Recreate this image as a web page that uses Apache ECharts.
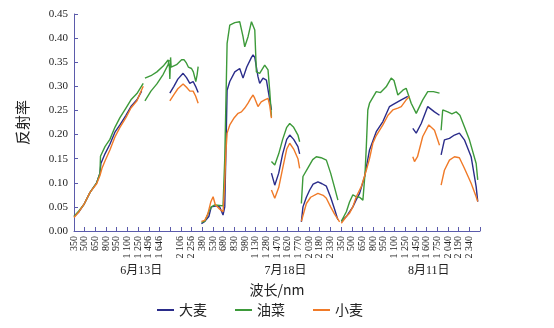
<!DOCTYPE html>
<html>
<head>
<meta charset="utf-8">
<script src="https://cdn.jsdelivr.net/npm/echarts@6/dist/echarts.min.js"></script>
<style>
  html, body { margin: 0; padding: 0; background: #ffffff; }
  #chart { width: 554px; height: 328px; }
</style>
</head>
<body>
<div id="chart"></div>
<script>
// Wavelength tick labels, one per slot along the spectral axis ('' = unlabelled slot)
const tickLabels = [
  '350', '500', '650', '800', '950', '1 100', '1 250', '1 496', '1 646', '', '2 106', '2 256',
  '380', '530', '680', '830', '980', '1 130', '1 280', '1 470', '1 620', '1 770', '2 030', '2 180', '2 330',
  '350', '500', '650', '800', '950', '1 100', '1 250', '1 450', '1 600', '1 750', '2 040', '2 190', '2 340'
];

// Observation dates and the slot under which each date caption sits
const dateNames = ['6月13日', '7月18日', '8月11日'];
const dateSlots = [6.3, 19.8, 33.2];

const seriesNames = ['大麦', '油菜', '小麦'];
const seriesColors = ['#2a2c8a', '#3d9a3a', '#f07a28'];

// Reflectance spectra: [slot, reflectance]; each inner array is one unbroken stretch
const barley0613 = [
  [[0,0.03],[0.47,0.04],[0.93,0.055],[1.5,0.08],[2.12,0.1],[2.43,0.12],[2.52,0.14],[2.9,0.16],[3.36,0.18],[3.83,0.205],[4.3,0.22],[4.86,0.24],[5.33,0.258],[5.89,0.272],[6.33,0.29]],
  [[8.97,0.286],[9.35,0.3],[9.72,0.315],[10.21,0.327],[10.53,0.318],[10.84,0.306],[11.15,0.31],[11.38,0.3],[11.62,0.287]]
];
const barley0718 = [
  [[11.93,0.015],[12.24,0.02],[12.62,0.03],[12.85,0.05],[13.02,0.054],[13.34,0.052],[13.64,0.05],[13.95,0.033],[14.11,0.05],[14.25,0.2],[14.33,0.292],[14.58,0.31],[15.05,0.33],[15.51,0.337],[15.82,0.317],[16.17,0.34],[16.61,0.36],[16.76,0.365],[16.92,0.36],[17.22,0.32],[17.38,0.306],[17.69,0.317],[18.01,0.313],[18.32,0.272],[18.48,0.251]],
  [[18.48,0.12],[18.79,0.095],[19.16,0.12],[19.53,0.16],[19.91,0.19],[20.19,0.199],[20.56,0.19],[20.96,0.175],[21.12,0.16]],
  [[21.28,0.019],[21.43,0.05],[21.75,0.07],[22.06,0.085],[22.38,0.097],[22.83,0.102],[23.22,0.098],[23.62,0.093],[24.02,0.07],[24.39,0.045],[24.7,0.023]]
];
const barley0811 = [
  [[25.02,0.02],[25.49,0.03],[26.1,0.05],[26.42,0.065],[26.73,0.078],[26.89,0.081],[27.2,0.113],[27.66,0.168],[28.29,0.206],[28.91,0.227],[29.53,0.258],[29.84,0.262],[30.63,0.272],[31.24,0.279]],
  [[31.71,0.213],[32.03,0.203],[32.5,0.223],[33.11,0.258],[33.74,0.247],[34.21,0.24]],
  [[34.36,0.158],[34.67,0.189],[35.14,0.192],[35.61,0.199],[36.07,0.203],[36.54,0.189],[37.17,0.154],[37.64,0.092],[37.79,0.061]]
];

const rape0613 = [
  [[0,0.03],[0.47,0.042],[0.93,0.055],[1.5,0.08],[2.12,0.1],[2.43,0.12],[2.48,0.155],[2.9,0.175],[3.36,0.19],[3.83,0.215],[4.3,0.235],[4.86,0.255],[5.33,0.272],[5.89,0.285],[6.48,0.306]],
  [[6.64,0.27],[7.2,0.29],[7.76,0.305],[8.35,0.325],[8.81,0.345],[8.9,0.355]],
  [[6.64,0.317],[7.2,0.322],[7.76,0.33],[8.35,0.342],[8.64,0.35],[8.81,0.355],[8.93,0.34],[8.97,0.315],[9.04,0.36],[9.09,0.34],[9.6,0.345],[10.07,0.355],[10.31,0.355],[10.53,0.348],[10.7,0.34],[11.0,0.337],[11.17,0.33],[11.31,0.327],[11.4,0.31],[11.47,0.306],[11.53,0.325],[11.62,0.341]]
];
const rape0718 = [
  [[11.93,0.018],[12.24,0.02],[12.62,0.04],[12.85,0.05],[13.18,0.054],[13.64,0.053],[13.95,0.052],[14.11,0.15],[14.33,0.389],[14.58,0.427],[15.05,0.432],[15.51,0.434],[15.82,0.403],[15.98,0.382],[16.29,0.403],[16.61,0.434],[16.92,0.417],[17.07,0.33],[17.38,0.327],[17.85,0.344],[18.16,0.334],[18.32,0.29],[18.48,0.237]],
  [[18.48,0.144],[18.79,0.137],[19.16,0.16],[19.53,0.19],[19.91,0.215],[20.19,0.223],[20.56,0.215],[20.96,0.199],[21.12,0.185]],
  [[21.28,0.057],[21.43,0.113],[21.87,0.13],[22.34,0.148],[22.68,0.154],[23.13,0.152],[23.62,0.147],[24.02,0.12],[24.39,0.09],[24.7,0.064]]
];
const rape0811 = [
  [[25.02,0.02],[25.49,0.04],[25.79,0.06],[26.1,0.075],[26.42,0.071],[26.73,0.07],[27.04,0.064],[27.24,0.12],[27.36,0.175],[27.5,0.251],[27.66,0.265],[28.29,0.289],[28.69,0.287],[29.22,0.299],[29.69,0.317],[29.95,0.312],[30.31,0.282],[30.78,0.292],[31.09,0.296],[31.56,0.265],[32.03,0.244],[32.64,0.272],[33.11,0.289],[33.64,0.289],[34.21,0.286]],
  [[34.36,0.209],[34.51,0.251],[34.98,0.247],[35.37,0.243],[35.77,0.247],[36.12,0.24],[36.54,0.216],[37.01,0.189],[37.64,0.14],[37.79,0.106]]
];

const wheat0613 = [
  [[0,0.028],[0.47,0.04],[0.93,0.055],[1.5,0.08],[2.12,0.098],[2.43,0.115],[2.62,0.13],[2.9,0.145],[3.36,0.168],[3.83,0.195],[4.3,0.215],[4.86,0.235],[5.33,0.255],[5.89,0.27],[6.48,0.3]],
  [[8.97,0.27],[9.35,0.283],[9.72,0.295],[10.21,0.305],[10.53,0.298],[10.84,0.29],[11.15,0.29],[11.38,0.28],[11.62,0.265]]
];
const wheat0718 = [
  [[11.93,0.02],[12.24,0.022],[12.52,0.035],[12.8,0.06],[13.02,0.071],[13.22,0.055],[13.64,0.045],[13.95,0.04],[14.11,0.1],[14.21,0.162],[14.33,0.203],[14.58,0.22],[15.0,0.235],[15.36,0.244],[15.67,0.247],[15.98,0.255],[16.29,0.265],[16.54,0.275],[16.76,0.282],[16.92,0.275],[17.22,0.258],[17.52,0.268],[17.85,0.272],[18.16,0.275],[18.32,0.26],[18.48,0.234]],
  [[18.48,0.085],[18.79,0.068],[19.16,0.09],[19.53,0.13],[19.91,0.17],[20.19,0.182],[20.56,0.17],[20.96,0.15],[21.12,0.13]],
  [[21.28,0.02],[21.75,0.057],[22.15,0.07],[22.83,0.078],[23.32,0.074],[23.62,0.068],[24.02,0.05],[24.39,0.035],[24.86,0.019]]
];
const wheat0811 = [
  [[25.02,0.016],[25.49,0.03],[25.79,0.037],[26.1,0.05],[26.42,0.071],[26.89,0.092],[27.36,0.126],[27.66,0.15],[27.97,0.182],[28.29,0.198],[28.91,0.22],[29.39,0.24],[29.84,0.251],[30.31,0.255],[30.63,0.258],[31.09,0.272],[31.4,0.279]],
  [[31.71,0.154],[31.87,0.144],[32.15,0.154],[32.64,0.196],[33.21,0.22],[33.74,0.209],[34.21,0.178]],
  [[34.36,0.095],[34.67,0.126],[35.14,0.147],[35.61,0.154],[36.07,0.152],[36.54,0.13],[37.17,0.099],[37.64,0.071],[37.79,0.061]]
];

// Join stretches into one polyline per crop, with an empty point between stretches
function joinStretches(groups) {
  const out = [];
  groups.forEach(function (g) {
    g.forEach(function (seg) {
      if (out.length) out.push('-');
      seg.forEach(function (p) { out.push(p); });
    });
  });
  return out;
}

const seriesData = [
  joinStretches([barley0613, barley0718, barley0811]),
  joinStretches([rape0613, rape0718, rape0811]),
  joinStretches([wheat0613, wheat0718, wheat0811])
];

const serif = 'Liberation Serif, Noto Sans CJK SC, serif';
const cjk = 'Noto Sans CJK SC, sans-serif';
const axisColor = '#5b5bab';

const chart = echarts.init(document.getElementById('chart'), null, { renderer: 'canvas' });

chart.setOption({
  animation: false,
  backgroundColor: '#ffffff',
  grid: { left: 74, right: 74, top: 14, bottom: 97, containLabel: false },
  legend: {
    data: seriesNames,
    left: 152,
    top: 298,
    icon: 'rect',
    itemWidth: 17,
    itemHeight: 2,
    itemGap: 28,
    textStyle: { fontFamily: cjk, fontSize: 14, color: '#222' }
  },
  xAxis: {
    type: 'value',
    min: 0,
    max: 38,
    interval: 1,
    name: '波长/nm',
    nameLocation: 'middle',
    nameGap: 52,
    nameTextStyle: { fontFamily: cjk, fontSize: 14, color: '#222' },
    axisLine: { lineStyle: { color: axisColor, width: 1 } },
    axisTick: { inside: true, length: 4, lineStyle: { color: axisColor } },
    splitLine: { show: false },
    axisLabel: {
      rotate: 90,
      margin: 5,
      fontFamily: serif,
      fontSize: 10,
      color: '#222',
      formatter: function (v) {
        const i = Math.round(v);
        return tickLabels[i] !== undefined ? tickLabels[i] : '';
      }
    }
  },
  yAxis: {
    type: 'value',
    min: 0,
    max: 0.45,
    interval: 0.05,
    name: '反射率',
    nameLocation: 'middle',
    nameGap: 44,
    nameTextStyle: { fontFamily: cjk, fontSize: 15, color: '#222' },
    axisLine: { show: true, lineStyle: { color: axisColor, width: 1 } },
    axisTick: { show: true, inside: true, length: 4, lineStyle: { color: axisColor } },
    splitLine: { show: false },
    axisLabel: {
      margin: 6,
      fontFamily: serif,
      fontSize: 11,
      color: '#222',
      formatter: function (v) { return v.toFixed(2); }
    }
  },
  series: seriesNames.map(function (name, i) {
    return {
      name: name,
      type: 'line',
      data: seriesData[i],
      showSymbol: false,
      symbol: 'none',
      connectNulls: false,
      lineStyle: { color: seriesColors[i], width: 1.4 },
      itemStyle: { color: seriesColors[i] }
    };
  })
});

// Date captions under each group of wavelength ticks
const captionY = 271;
chart.setOption({
  graphic: dateNames.map(function (t, i) {
    const px = chart.convertToPixel({ xAxisIndex: 0 }, dateSlots[i]);
    return {
      type: 'text',
      x: px,
      y: captionY,
      style: {
        text: t,
        fill: '#222',
        font: '12px ' + serif,
        textAlign: 'center',
        textVerticalAlign: 'middle'
      }
    };
  })
});
</script>
</body>
</html>
